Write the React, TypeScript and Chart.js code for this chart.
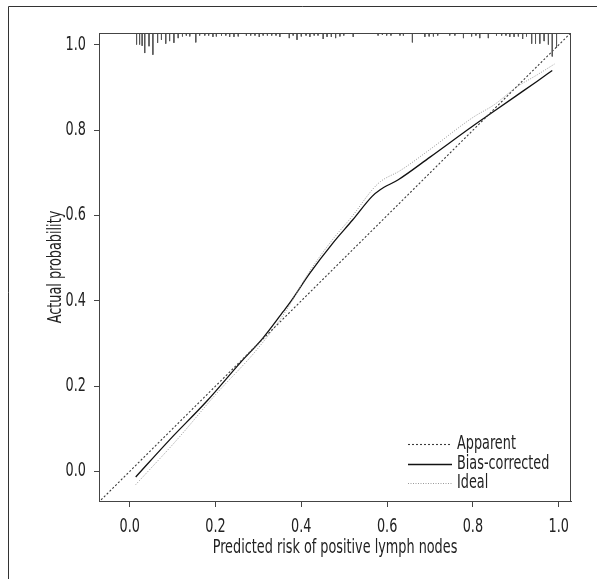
import React, { useEffect, useRef } from "react";
import { Chart, registerables } from "chart.js";

Chart.register(...registerables);

// ---------- data ----------
const xTicks = [0, 0.2, 0.4, 0.6, 0.8, 1.0];
const yTicks = [0, 0.2, 0.4, 0.6, 0.8, 1.0];

const X_MIN = -0.0716;
const X_MAX = 1.0287;
const Y_MIN = -0.0694;
const Y_MAX = 1.028;

const biasX = [0.014, 0.093, 0.18, 0.257, 0.31, 0.358, 0.373, 0.42, 0.474, 0.52, 0.565, 0.583, 0.626, 0.7, 0.8, 0.85, 0.9, 0.95, 0.985];
const biasY = [-0.013, 0.074, 0.165, 0.254, 0.312, 0.375, 0.395, 0.465, 0.536, 0.59, 0.645, 0.66, 0.684, 0.737, 0.81, 0.845, 0.88, 0.915, 0.94];

const apparentX = [0.014, 0.11, 0.2, 0.296, 0.36, 0.42, 0.474, 0.52, 0.565, 0.585, 0.63, 0.7, 0.8, 0.85, 0.9, 0.95, 0.99];
const apparentY = [-0.031, 0.074, 0.18, 0.285, 0.37, 0.47, 0.545, 0.6, 0.66, 0.68, 0.705, 0.755, 0.83, 0.86, 0.9, 0.93, 0.955];

const idealX = [-0.08, 1.04];
const idealY = [-0.08, 1.04];

const rugX = [0.016, 0.023, 0.029, 0.035, 0.045, 0.054, 0.065, 0.074, 0.084, 0.093, 0.103, 0.113, 0.123, 0.132, 0.14, 0.154, 0.163, 0.175, 0.184, 0.194, 0.202, 0.214, 0.224, 0.233, 0.243, 0.253, 0.272, 0.282, 0.292, 0.302, 0.311, 0.321, 0.331, 0.341, 0.35, 0.372, 0.381, 0.39, 0.4, 0.411, 0.42, 0.43, 0.439, 0.451, 0.46, 0.47, 0.48, 0.49, 0.499, 0.521, 0.579, 0.589, 0.599, 0.609, 0.63, 0.638, 0.659, 0.688, 0.698, 0.708, 0.718, 0.746, 0.758, 0.778, 0.797, 0.807, 0.816, 0.836, 0.855, 0.867, 0.877, 0.886, 0.896, 0.906, 0.916, 0.925, 0.937, 0.946, 0.956, 0.966, 0.976, 0.985, 0.995];
const rugLen = [0.027, 0.027, 0.03, 0.047, 0.031, 0.051, 0.023, 0.016, 0.025, 0.019, 0.023, 0.012, 0.008, 0.006, 0.008, 0.022, 0.006, 0.006, 0.006, 0.009, 0.008, 0.006, 0.006, 0.009, 0.009, 0.008, 0.006, 0.006, 0.006, 0.009, 0.006, 0.006, 0.006, 0.006, 0.009, 0.012, 0.006, 0.016, 0.008, 0.006, 0.009, 0.006, 0.006, 0.014, 0.009, 0.009, 0.012, 0.008, 0.006, 0.009, 0.006, 0.004, 0.006, 0.006, 0.006, 0.006, 0.022, 0.009, 0.008, 0.008, 0.006, 0.006, 0.006, 0.012, 0.008, 0.006, 0.012, 0.012, 0.006, 0.006, 0.006, 0.009, 0.009, 0.008, 0.014, 0.008, 0.025, 0.025, 0.025, 0.019, 0.027, 0.055, 0.035];

const legendLabels = ["Apparent", "Bias-corrected", "Ideal"];
const xTitle = "Predicted risk of positive lymph nodes";
const yTitle = "Actual probability";

// ---------- styles ----------
const FONT = "'Liberation Sans Narrow', 'Arial Narrow', 'DejaVu Sans Condensed', sans-serif";
const TEXT_SQUEEZE = 0.75;
const AXIS_COLOR = "#444";
const TEXT_COLOR = "#222";
const IDEAL_STYLE = { color: "#3a3a3a", dash: [2, 2], width: 1.1 };
const APPARENT_STYLE = { color: "#9a9a9a", dash: [1, 1.5], width: 1 };
const BIAS_STYLE = { color: "#111", dash: [] as number[], width: 1.3 };

const toPts = (xs: number[], ys: number[]) => xs.map((x, i) => ({ x, y: ys[i] }));

const rugPts = () => {
  const pts: { x: number; y: number | null }[] = [];
  rugX.forEach((x, i) => {
    pts.push({ x, y: Y_MAX });
    pts.push({ x, y: Y_MAX - rugLen[i] });
    pts.push({ x, y: null });
  });
  return pts;
};

const framePlugin = {
  id: "frameAndLegend",
  beforeDraw(chart: any) {
    const ctx = chart.ctx;
    ctx.save();
    ctx.fillStyle = "#fff";
    ctx.fillRect(0, 0, chart.width, chart.height);
    ctx.strokeStyle = "#333";
    ctx.lineWidth = 1;
    ctx.beginPath();
    ctx.moveTo(8.5, chart.height);
    ctx.lineTo(8.5, 6.5);
    ctx.lineTo(chart.width, 6.5);
    ctx.stroke();
    ctx.restore();
  },
  afterDatasetsDraw(chart: any) {
    const ctx = chart.ctx;
    const a = chart.chartArea;
    ctx.save();
    ctx.strokeStyle = AXIS_COLOR;
    ctx.lineWidth = 1;
    ctx.strokeRect(Math.round(a.left) + 0.5, Math.round(a.top) + 0.5, Math.round(a.right - a.left) - 1, Math.round(a.bottom - a.top));
    // legend
    const styles = [IDEAL_STYLE, BIAS_STYLE, APPARENT_STYLE];
    const lx0 = a.right - 163;
    const lx1 = a.right - 119;
    const tx = a.right - 114;
    const y0 = a.bottom - 57;
    const dy = 19.5;
    ctx.font = `19px ${FONT}`;
    ctx.textBaseline = "middle";
    ctx.textAlign = "left";
    legendLabels.forEach((lab, i) => {
      const s = styles[i];
      const y = Math.round(y0 + i * dy) + 0.5;
      ctx.beginPath();
      ctx.setLineDash(s.dash);
      ctx.strokeStyle = s.color;
      ctx.lineWidth = s.width;
      ctx.moveTo(lx0, y);
      ctx.lineTo(lx1, y);
      ctx.stroke();
      ctx.setLineDash([]);
      ctx.fillStyle = TEXT_COLOR;
      ctx.fillText(lab, tx, y);
    });
    ctx.restore();
  },
};

export default function App() {
  const ref = useRef<HTMLCanvasElement | null>(null);
  useEffect(() => {
    if (!ref.current) return;
    const ctx2d = ref.current.getContext("2d") as any;
    // condensed text rendering (the reference uses a condensed face)
    const origFill = ctx2d.fillText;
    ctx2d.fillText = function (text: string, x: number, y: number, maxWidth?: number) {
      this.save();
      this.translate(x, y);
      this.scale(TEXT_SQUEEZE, 1);
      if (maxWidth !== undefined) origFill.call(this, text, 0, 0, maxWidth / TEXT_SQUEEZE);
      else origFill.call(this, text, 0, 0);
      this.restore();
    };
    const tickFont = { family: FONT, size: 19 };
    const chart = new Chart(ref.current, {
      type: "scatter",
      data: {
        datasets: [
          {
            label: "rug",
            data: rugPts() as any,
            showLine: true,
            spanGaps: false,
            borderColor: "#555",
            borderWidth: 1,
            pointRadius: 0,
            tension: 0,
          },
          {
            label: "Ideal",
            data: toPts(idealX, idealY),
            showLine: true,
            borderColor: IDEAL_STYLE.color,
            borderDash: IDEAL_STYLE.dash,
            borderWidth: IDEAL_STYLE.width,
            pointRadius: 0,
          },
          {
            label: "Apparent",
            data: toPts(apparentX, apparentY),
            showLine: true,
            borderColor: APPARENT_STYLE.color,
            borderDash: APPARENT_STYLE.dash,
            borderWidth: APPARENT_STYLE.width,
            pointRadius: 0,
            cubicInterpolationMode: "monotone",
          },
          {
            label: "Bias-corrected",
            data: toPts(biasX, biasY),
            showLine: true,
            borderColor: BIAS_STYLE.color,
            borderWidth: BIAS_STYLE.width,
            pointRadius: 0,
            cubicInterpolationMode: "monotone",
          },
        ],
      },
      options: {
        responsive: false,
        animation: false,
        devicePixelRatio: 1,
        layout: { padding: { left: 0, top: 33, right: 26, bottom: 0 } },
        plugins: { legend: { display: false }, tooltip: { enabled: false } },
        scales: {
          x: {
            type: "linear",
            min: X_MIN,
            max: X_MAX,
            afterBuildTicks: (s: any) => {
              s.ticks = xTicks.map((v) => ({ value: v }));
            },
            afterFit: (s: any) => {
              s.height = 78;
            },
            grid: { display: true, drawOnChartArea: false, drawTicks: true, tickLength: 6, color: AXIS_COLOR },
            border: { display: true, color: AXIS_COLOR },
            ticks: {
              font: tickFont,
              color: TEXT_COLOR,
              padding: 9,
              maxRotation: 0,
              autoSkip: false,
              callback: (v: any) => Number(v).toFixed(1),
            },
            title: {
              display: true,
              text: xTitle,
              font: tickFont,
              color: TEXT_COLOR,
              padding: { top: 0, bottom: 20 },
            },
          },
          y: {
            type: "linear",
            min: Y_MIN,
            max: Y_MAX,
            afterBuildTicks: (s: any) => {
              s.ticks = yTicks.map((v) => ({ value: v }));
            },
            afterFit: (s: any) => {
              s.width = 99;
            },
            grid: { display: true, drawOnChartArea: false, drawTicks: true, tickLength: 5, color: AXIS_COLOR },
            border: { display: true, color: AXIS_COLOR },
            ticks: {
              font: tickFont,
              color: TEXT_COLOR,
              padding: 8,
              autoSkip: false,
              callback: (v: any) => Number(v).toFixed(1),
            },
            title: {
              display: true,
              text: yTitle,
              font: tickFont,
              color: TEXT_COLOR,
              padding: { top: 45, bottom: 0 },
            },
          },
        },
      },
      plugins: [framePlugin],
    });
    return () => {
      chart.destroy();
      ctx2d.fillText = origFill;
    };
  }, []);
  return (
    <div style={{ position: "absolute", left: 0, top: 0, width: 597, height: 579, background: "#fff" }}>
      <canvas ref={ref} width={597} height={579} style={{ display: "block", width: 597, height: 579 }} />
    </div>
  );
}
